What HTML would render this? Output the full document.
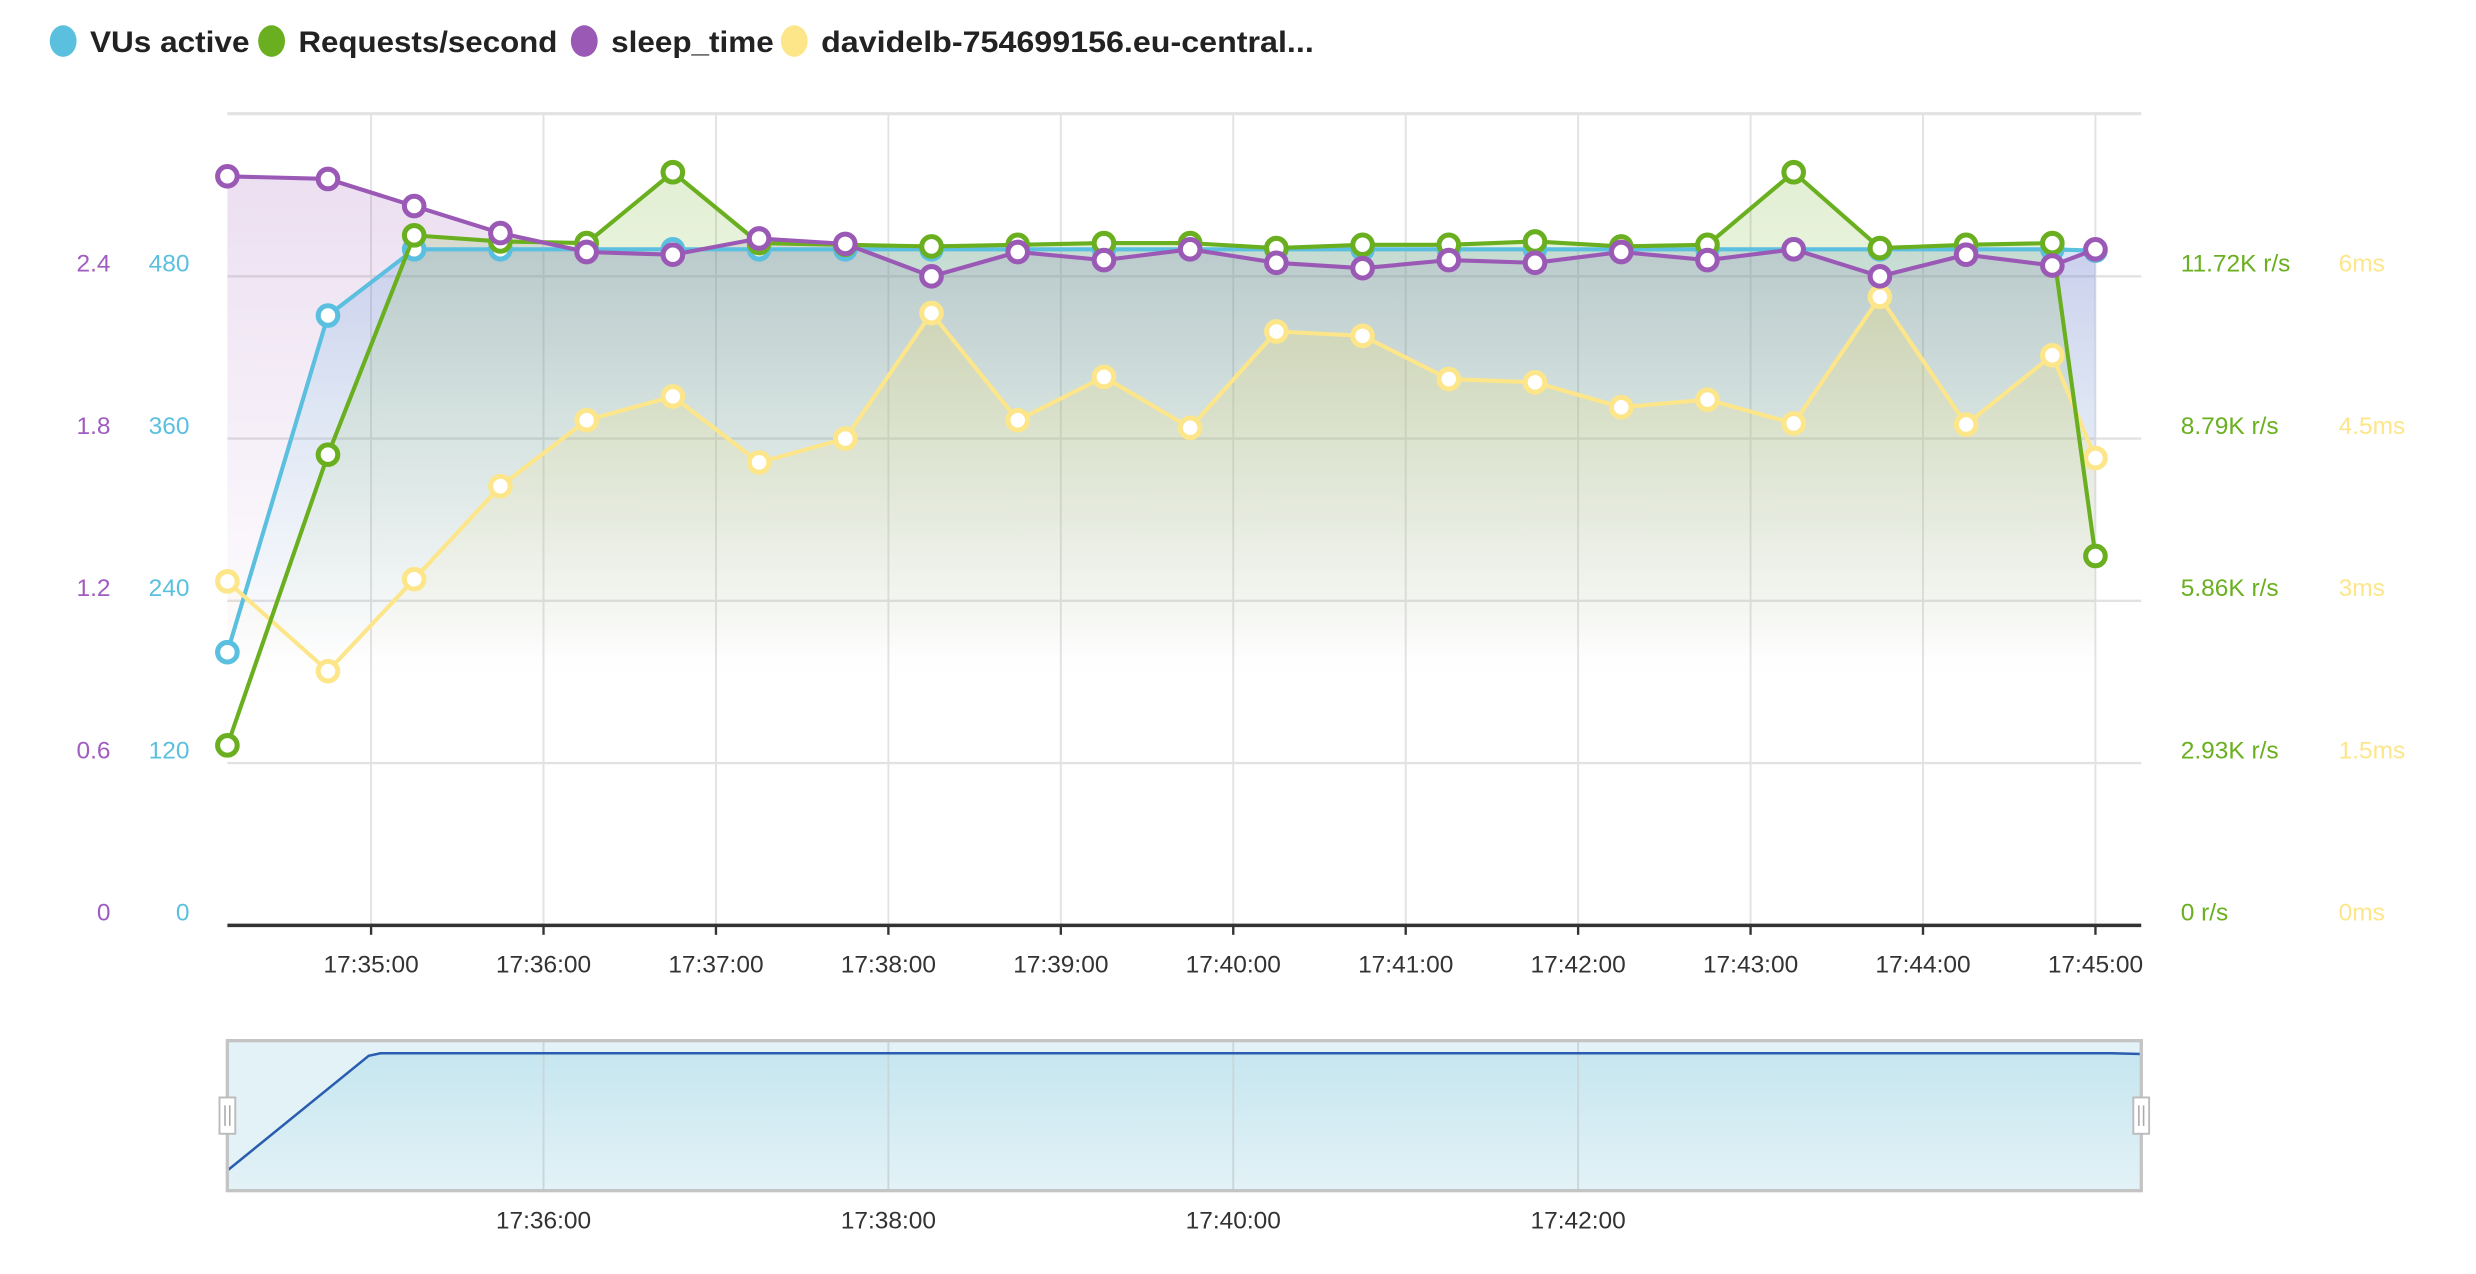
<!DOCTYPE html>
<html><head><meta charset="utf-8">
<style>
html,body{margin:0;padding:0;background:#fff;}
svg{display:block;font-family:"Liberation Sans",sans-serif;}
</style></head>
<body>
<svg id="chart" width="2476" height="1274" viewBox="0 0 1568 806.8" preserveAspectRatio="none" xmlns="http://www.w3.org/2000/svg">
<defs>
<linearGradient id="gPurple" gradientUnits="userSpaceOnUse" x1="0" y1="100" x2="0" y2="430"><stop offset="0" stop-color="#9b59b6" stop-opacity="0.2"/><stop offset="1" stop-color="#9b59b6" stop-opacity="0"/></linearGradient>
<linearGradient id="gBlue" gradientUnits="userSpaceOnUse" x1="0" y1="150" x2="0" y2="420"><stop offset="0" stop-color="#5b8fd8" stop-opacity="0.25"/><stop offset="0.5" stop-color="#5bbfdf" stop-opacity="0.12"/><stop offset="1" stop-color="#5bbfdf" stop-opacity="0"/></linearGradient>
<linearGradient id="gGreen" gradientUnits="userSpaceOnUse" x1="0" y1="100" x2="0" y2="420"><stop offset="0" stop-color="#6aaf1f" stop-opacity="0.2"/><stop offset="0.6" stop-color="#6aaf1f" stop-opacity="0.08"/><stop offset="1" stop-color="#6aaf1f" stop-opacity="0"/></linearGradient>
<linearGradient id="gYellow" gradientUnits="userSpaceOnUse" x1="0" y1="190" x2="0" y2="420"><stop offset="0" stop-color="#e8d870" stop-opacity="0.3"/><stop offset="1" stop-color="#fce588" stop-opacity="0"/></linearGradient>
<linearGradient id="gNav" x1="0" y1="0" x2="0" y2="1"><stop offset="0" stop-color="#c6e6ef"/><stop offset="1" stop-color="#e3f2f7"/></linearGradient>
</defs>
<g id="legend"></g>
<g id="grid"></g>
<g id="fills"></g>
<g id="lines"></g>
<g id="axes"></g>
<g id="nav"></g>
</svg>
<script>
const times = [10,45,75,105,135,165,195,225,255,285,315,345,375,405,435,465,495,525,555,585,615,645,660];
const vus = [202,451,500,500,500,500,500,500,500,500,500,500,500,500,500,500,500,500,500,500,500,500,499];
const rpsK = [3.25,8.50,12.46,12.35,12.32,13.60,12.32,12.29,12.26,12.29,12.32,12.32,12.23,12.29,12.29,12.35,12.26,12.29,13.60,12.23,12.29,12.32,6.67];
const sleep = [2.77,2.76,2.66,2.56,2.49,2.48,2.54,2.52,2.40,2.49,2.46,2.50,2.45,2.43,2.46,2.45,2.49,2.46,2.50,2.40,2.48,2.44,2.50];
const httpMs = [3.18,2.35,3.20,4.06,4.67,4.89,4.28,4.50,5.66,4.67,5.07,4.60,5.49,5.45,5.05,5.02,4.79,4.86,4.64,5.81,4.63,5.27,4.32];
const vuTicks = ['0','120','240','360','480'];
const sleepTicks = ['0','0.6','1.2','1.8','2.4'];
const rpsTicks = ['0 r/s','2.93K r/s','5.86K r/s','8.79K r/s','11.72K r/s'];
const msTicks = ['0ms','1.5ms','3ms','4.5ms','6ms'];
const xTickLabels = ['17:35:00','17:36:00','17:37:00','17:38:00','17:39:00','17:40:00','17:41:00','17:42:00','17:43:00','17:44:00','17:45:00'];
const xTickTimes = [60,120,180,240,300,360,420,480,540,600,660];
const navTickLabels = ['17:36:00','17:38:00','17:40:00','17:42:00'];
const navTickTimes = [120,240,360,480];
const navTimes = [10,58,62,650,660];
const navVus = [30,490,500,500,497];
const legendNames = ['VUs active','Requests/second','sleep_time','davidelb-754699156.eu-central...'];
const legendColors = ['#5bc0de','#6aaf1f','#9b59b6','#fde68a'];

const NS='http://www.w3.org/2000/svg';
const L=144, R=1356, B=586, T=72, H=411;
const x = t => 235 + (t-60)/60*109.2;
const yV = v => B - v/480*H;
const yR = v => B - v/11.72*H;
const yS = v => B - v/2.4*H;
const yM = v => B - v/6*H;
function mk(tag, attrs, parent){const e=document.createElementNS(NS,tag);for(const k in attrs)e.setAttribute(k,attrs[k]);parent.appendChild(e);return e;}
const gLeg=document.getElementById('legend'),gGrid=document.getElementById('grid'),gFill=document.getElementById('fills'),gLines=document.getElementById('lines'),gAx=document.getElementById('axes'),gNav=document.getElementById('nav');

// legend
const legC=[40,172,370,503];
const legW=[101,164,103,312];
legendNames.forEach((n,i)=>{
  const c=mk('ellipse',{cx:legC[i],cy:26,rx:8.5,ry:10,fill:legendColors[i]},gLeg);
  
  
  const t=mk('text',{x:legC[i]+17,y:33,'font-size':19,'font-weight':'bold',fill:'#222','textLength':legW[i],lengthAdjust:'spacingAndGlyphs'},gLeg);
  t.textContent=n;
  
  
});

// grid
mk('line',{x1:L,x2:R,y1:T,y2:T,stroke:'#e2e2e2','stroke-width':2},gGrid);
for(let i=1;i<5;i++){const yy=B-i*H/4;const g=mk('line',{x1:L,x2:R,y1:yy,y2:yy,stroke:'#e2e2e2','stroke-width':1.5},gGrid);}
xTickTimes.forEach(t=>{const g=mk('line',{x1:x(t),x2:x(t),y1:T,y2:B,stroke:'#e2e2e2','stroke-width':1.2},gGrid);});

function pts(arr,fy){return arr.map((v,i)=>x(times[i])+','+fy(v)).join(' ');}
function area(arr,fy,grad,name){
  const p=mk('polygon',{points:x(times[0])+','+B+' '+pts(arr,fy)+' '+x(times[times.length-1])+','+B,fill:'url(#'+grad+')'},gFill);
  
  
}
area(sleep,yS,'gPurple','sleep-time-area');
area(vus,yV,'gBlue','vus-area');
area(rpsK,yR,'gGreen','rps-area');
area(httpMs,yM,'gYellow','http-duration-area');

function series(arr,fy,color,name){
  const l=mk('polyline',{points:pts(arr,fy),fill:'none',stroke:color,'stroke-width':2.6,'stroke-linejoin':'round'},gLines);
  
  
  arr.forEach((v,i)=>{
    const c=mk('circle',{cx:x(times[i]),cy:fy(v),r:6.2,fill:'#fff',stroke:color,'stroke-width':3.2},gLines);
    
    
  });
}
series(vus,yV,'#5bbfdf','vus');
series(httpMs,yM,'#fde68a','http-duration');
series(rpsK,yR,'#6aaf1f','rps');
series(sleep,yS,'#9b59b6','sleep-time');

// axes
const base=mk('line',{x1:L,x2:R,y1:B,y2:B,stroke:'#333','stroke-width':2.2},gAx);


xTickTimes.forEach((t,i)=>{
  mk('line',{x1:x(t),x2:x(t),y1:B,y2:B+6,stroke:'#333','stroke-width':1.5},gAx);
  const tx=mk('text',{x:x(t),y:616,'font-size':15.5,fill:'#333','text-anchor':'middle'},gAx);
  tx.textContent=xTickLabels[i];
  
  
});
for(let i=0;i<5;i++){
  const yy=B-i*H/4-3;
  const a=mk('text',{x:70,y:yy,'font-size':15.5,fill:'#a05cc0','text-anchor':'end'},gAx);a.textContent=sleepTicks[i];
  
  const b=mk('text',{x:120,y:yy,'font-size':15.5,fill:'#5bc0de','text-anchor':'end'},gAx);b.textContent=vuTicks[i];
  
  const c=mk('text',{x:1381,y:yy,'font-size':15.5,fill:'#6aaf1f'},gAx);c.textContent=rpsTicks[i];
  
  const d=mk('text',{x:1481,y:yy,'font-size':15.5,fill:'#fde68a'},gAx);d.textContent=msTicks[i];
  
}

// navigator
const NT=659, NB=754;
const nx = t => L + (t-10)/(660-10)*(R-L);
const ny = v => NB - 8 - v/500*(NB-NT-16);
mk('rect',{x:L,y:NT,width:R-L,height:NB-NT,fill:'#e3f2f7',stroke:'#c4c4c4','stroke-width':2},gNav);
const navPts=navTimes.map((t,i)=>nx(t)+','+ny(navVus[i])).join(' ');
mk('polygon',{points:nx(navTimes[0])+','+NB+' '+navPts+' '+nx(navTimes[navTimes.length-1])+','+NB,fill:'url(#gNav)'},gNav);
navTickTimes.forEach((t,i)=>{
  mk('line',{x1:x(t),x2:x(t),y1:NT,y2:NB,stroke:'#c9d6da','stroke-width':1.2},gNav);
  const tx=mk('text',{x:x(t),y:778,'font-size':15.5,fill:'#333','text-anchor':'middle'},gNav);
  tx.textContent=navTickLabels[i];
  
  
});
const nl=mk('polyline',{points:navPts,fill:'none',stroke:'#2a5db0','stroke-width':1.6},gNav);


mk('rect',{x:L,y:NT,width:R-L,height:NB-NT,fill:'none',stroke:'#c4c4c4','stroke-width':2},gNav);
[L,R].forEach((hx,i)=>{
  const h=mk('rect',{x:hx-5,y:695,width:10,height:23,fill:'#fff',stroke:'#bbb','stroke-width':1.2},gNav);
  
  
  mk('line',{x1:hx-1.5,x2:hx-1.5,y1:700,y2:713,stroke:'#aaa','stroke-width':1},gNav);
  mk('line',{x1:hx+1.5,x2:hx+1.5,y1:700,y2:713,stroke:'#aaa','stroke-width':1},gNav);
});
</script>
</body></html>
